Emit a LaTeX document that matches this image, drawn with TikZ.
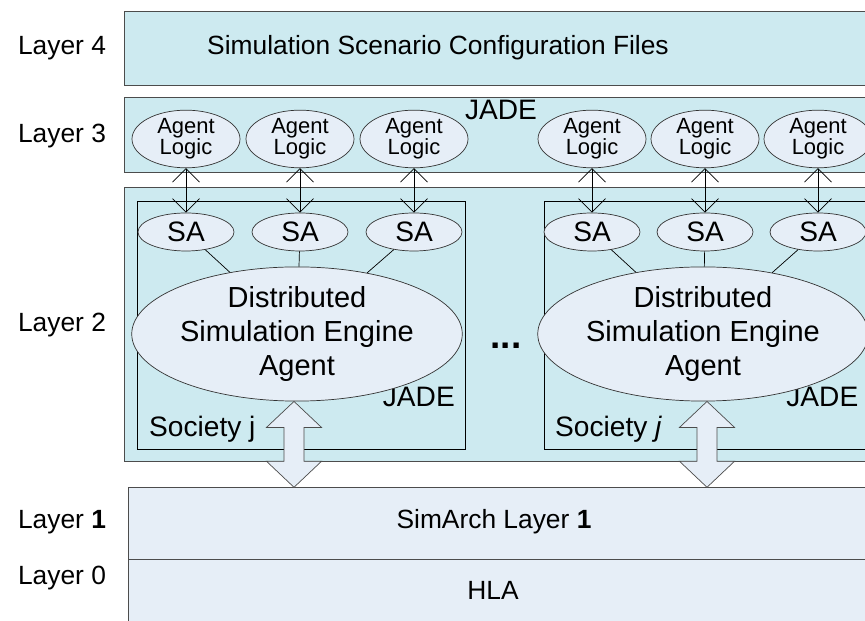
\documentclass[tikz,border=0pt]{standalone}
\usepackage{fontspec}
\setmainfont{Liberation Sans}
\usetikzlibrary{calc}
\usetikzlibrary{arrows.meta}
\usetikzlibrary{shapes.geometric}
\definecolor{layercyan}{RGB}{205,234,240}
\definecolor{agentblue}{RGB}{230,238,247}
\tikzset{
  layerbox/.style={draw=black!70, fill=layercyan, anchor=south west, inner sep=0pt},
  lowbox/.style={draw=black!70, fill=agentblue, anchor=south west, inner sep=0pt},
  society/.style={draw=black, anchor=south west, inner sep=0pt},
  logic/.style={ellipse, draw=black!80, fill=agentblue, minimum width=2.16cm, minimum height=0.88cm, inner sep=0pt, align=center, font=\fontsize{12.5}{12}\selectfont},
  sa/.style={ellipse, draw=black!80, fill=agentblue, minimum width=1.92cm, minimum height=0.76cm, inner sep=0pt, font=\fontsize{16}{18}\selectfont},
  engine/.style={ellipse, draw=black!80, fill=agentblue, minimum width=6.1cm, minimum height=2.3cm, inner sep=0pt, align=center, font=\fontsize{16.5}{19.3}\selectfont},
  layerlabel/.style={font=\fontsize{15}{17}\selectfont},
  jade/.style={font=\fontsize{16}{18}\selectfont},
  bigarrow/.style={draw=black!70, fill=agentblue},
  talk/.style={{Straight Barb[length=2.7mm,width=5.4mm]}-{Straight Barb[length=2.7mm,width=5.4mm]}, draw=black}
}

\begin{document}
\begin{tikzpicture}
\useasboundingbox (0,0) rectangle (17.3,12.42);

\node[layerbox, minimum width=15.2cm, minimum height=1.48cm] (lay4) at (2.48,10.7) {};
\node[layerbox, minimum width=15.2cm, minimum height=1.5cm] (lay3) at (2.48,8.96) {};
\node[layerbox, minimum width=15.2cm, minimum height=5.48cm] (lay2) at (2.48,3.18) {};
\node[lowbox, minimum width=15.1cm, minimum height=1.44cm] (lay1) at (2.56,1.22) {};
\node[lowbox, minimum width=15.1cm, minimum height=1.5cm] (lay0) at (2.56,-0.28) {};

\node[layerlabel] (l4) at (1.24,11.46) {Layer 4};
\node[layerlabel] (l3) at (1.24,9.7) {Layer 3};
\node[layerlabel] (l2) at (1.24,5.92) {Layer 2};
\node[layerlabel] (l1) at (1.24,1.98) {Layer \textbf{1}};
\node[layerlabel] (l0) at (1.24,0.86) {Layer 0};

\node[layerlabel] (files) at (8.76,11.46) {Simulation Scenario Configuration Files};
\node[jade] (jade3) at (10.02,10.22) {JADE};
\node[layerlabel] (simarch) at (9.88,1.98) {SimArch Layer \textbf{1}};
\node[layerlabel] (hla) at (9.86,0.62) {HLA};

\node[society, minimum width=6.56cm, minimum height=4.96cm] (socL) at (2.74,3.42) {};
\node[society, minimum width=6.8cm, minimum height=4.96cm] (socR) at (10.88,3.42) {};
\node[jade, anchor=east] (jadeL) at (9.22,4.48) {JADE};
\node[jade, anchor=east] (jadeR) at (17.29,4.48) {JADE};
\node[jade, anchor=west] (namL) at (2.86,3.84) {Society j};
\node[jade, anchor=west] (namR) at (10.98,3.84) {Society \textit{j}};
\node[font=\bfseries\fontsize{21}{21}\selectfont] (dots) at (10.12,5.5) {...};

\node[logic] (al1) at (3.72,9.64) {Agent\\Logic};
\node[logic] (al2) at (6.0,9.64) {Agent\\Logic};
\node[logic] (al3) at (8.28,9.64) {Agent\\Logic};
\node[logic] (al4) at (11.84,9.64) {Agent\\Logic};
\node[logic] (al5) at (14.1,9.64) {Agent\\Logic};
\node[logic] (al6) at (16.36,9.64) {Agent\\Logic};

\node[sa] (sa1) at (3.72,7.78) {SA};
\node[sa] (sa2) at (6.0,7.78) {SA};
\node[sa] (sa3) at (8.28,7.78) {SA};
\node[sa] (sa4) at (11.84,7.78) {SA};
\node[sa] (sa5) at (14.1,7.78) {SA};
\node[sa] (sa6) at (16.36,7.78) {SA};

\node[engine] (engL) at (5.94,5.74) {Distributed\\Simulation Engine\\Agent};
\node[engine] (engR) at (14.06,5.74) {Distributed\\Simulation Engine\\Agent};

\foreach \i in {1,...,6}
  \draw[talk] (al\i) -- (sa\i);
\foreach \i in {1,2,3}
  \draw (sa\i) -- (engL);
\foreach \i in {4,5,6}
  \draw (sa\i) -- (engR);

\coordinate (A) at ($(engL.south)+(-0.06,0)$);
\coordinate (B) at (A |- lay1.north);
\draw[bigarrow] (A) -- ($(A)+(0.55,-0.52)$) -- ($(A)+(0.2,-0.52)$) -- ($(B)+(0.2,0.52)$) -- ($(B)+(0.55,0.52)$) -- (B) -- ($(B)+(-0.55,0.52)$) -- ($(B)+(-0.2,0.52)$) -- ($(A)+(-0.2,-0.52)$) -- ($(A)+(-0.55,-0.52)$) -- cycle;
\coordinate (A) at ($(engR.south)+(0.08,0)$);
\coordinate (B) at (A |- lay1.north);
\draw[bigarrow] (A) -- ($(A)+(0.55,-0.52)$) -- ($(A)+(0.2,-0.52)$) -- ($(B)+(0.2,0.52)$) -- ($(B)+(0.55,0.52)$) -- (B) -- ($(B)+(-0.55,0.52)$) -- ($(B)+(-0.2,0.52)$) -- ($(A)+(-0.2,-0.52)$) -- ($(A)+(-0.55,-0.52)$) -- cycle;

\end{tikzpicture}
\end{document}
